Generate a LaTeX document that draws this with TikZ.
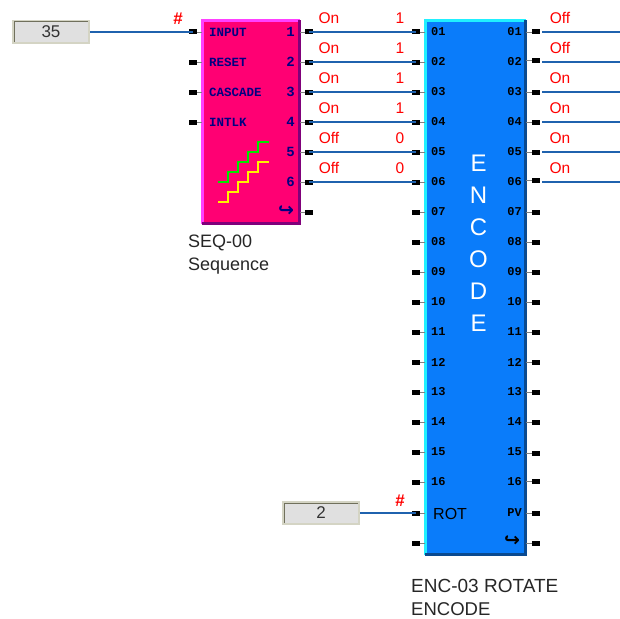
\documentclass[tikz,border=0pt]{standalone}
\usepackage{fontspec}
\usetikzlibrary{calc}
\setmainfont{Liberation Sans}
\setmonofont{Liberation Mono}
\newfontfamily\symfont{DejaVu Sans}
\definecolor{seqfill}{HTML}{FF0073}
\definecolor{seqlight}{HTML}{FF40FF}
\definecolor{seqdark}{HTML}{80007A}
\definecolor{encfill}{HTML}{0A7CFA}
\definecolor{enclight}{HTML}{20F0FF}
\definecolor{encdark}{HTML}{0A4A90}
\definecolor{wireblue}{HTML}{1F62AE}
\definecolor{pinnavy}{HTML}{000080}
\definecolor{bevellight}{HTML}{D4D4C4}
\definecolor{beveldark}{HTML}{70705C}
\tikzset{
	pinbox/.style={fill=black, inner sep=0pt, minimum width=8pt, minimum height=5pt},
	stub/.style={draw=gray, line width=0.9pt},
	wire/.style={draw=wireblue, line width=1.4pt, preaction={draw=wireblue!35, line width=2.6pt}},
	valbox/.style={fill=black!12, draw=bevellight, line width=2pt, inner sep=0pt, minimum width=76pt, minimum height=22pt, font=\fontsize{17}{17}\selectfont, text=black!80},
	redtxt/.style={text=red, inner sep=0pt, font=\fontsize{15.5}{16}\selectfont},
	seqtxt/.style={text=pinnavy, inner sep=0pt, font=\ttfamily\bfseries\fontsize{12.5}{13}\selectfont},
	enctxt/.style={text=black, inner sep=0pt, font=\ttfamily\bfseries\fontsize{12}{12}\selectfont},
	title/.style={text=black!85, inner sep=0pt, anchor=west, font=\fontsize{18}{18}\selectfont},
}
\begin{document}
\begin{tikzpicture}[x=1pt, y=-1pt]
	\useasboundingbox (0,0) rectangle (620,618);
	% blocks
	\node[fill=seqfill, inner sep=0pt, minimum width=97pt, minimum height=203pt] (seq) at (251,122) {};
	\node[fill=encfill, inner sep=0pt, minimum width=100pt, minimum height=534pt] (enc) at (475.5,287.5) {};
	\draw[seqlight, line width=3pt] (seq.south west) -- (seq.north west) -- (seq.north east);
	\draw[seqdark, line width=3pt] (seq.north east) -- (seq.south east) -- (seq.south west);
	\draw[enclight, line width=3pt] (enc.south west) -- (enc.north west) -- (enc.north east);
	\draw[encdark, line width=3pt] (enc.north east) -- (enc.south east) -- (enc.south west);
	% sequence pins
	\foreach \t [count=\i] in {INPUT,RESET,CASCADE,INTLK} {
		\pgfmathtruncatemacro{\y}{2+30*\i}
		\node[pinbox] (sl\i) at (193,\y) {};
		\draw[stub] (sl\i) -- (seq.west |- sl\i);
		\node[seqtxt, anchor=west] (slt\i) at (209,\y) {\t};
	}
	\foreach \i in {1,...,7} {
		\pgfmathtruncatemacro{\y}{2+30*\i}
		\node[pinbox] (sr\i) at (309,\y) {};
		\draw[stub] (sr\i) -- (seq.east |- sr\i);
	}
	\foreach \i in {1,...,6} {
		\node[seqtxt, anchor=east, font=\ttfamily\bfseries\fontsize{14}{14}\selectfont] (srt\i) at (295,2+30*\i) {\i};
	}
	\node[text=pinnavy, inner sep=0pt, font=\symfont\bfseries\fontsize{19}{19}\selectfont] (shook) at (286,211) {↪};
	% stairs
	\draw[green!90!black, line width=1.5pt] (218,182) -- (228,182) -- (228,172) -- (238,172) -- (238,162) -- (248,162) -- (248,152) -- (258,152) -- (258,142) -- (269,142);
	\draw[yellow, line width=1.5pt] (218,202) -- (228,202) -- (228,192) -- (238,192) -- (238,182) -- (248,182) -- (248,172) -- (258,172) -- (258,162) -- (269,162);
	% encode pins
	\foreach \t [count=\i] in {01,02,03,04,05,06,07,08,09,10,11,12,13,14,15,16} {
		\pgfmathtruncatemacro{\y}{2+30*\i}
		\node[pinbox] (el\i) at (416,\y) {};
		\draw[stub] (el\i) -- (enc.west |- el\i);
		\node[enctxt, anchor=west] (elt\i) at (431,\y) {\t};
		\node[enctxt, anchor=east] (ert\i) at (522,\y) {\t};
	}
	\foreach \i/\y in {1/32,2/60,3/92,4/122,5/152,6/180,7/212,8/242,9/272,10/302,11/332,12/362,13/392,14/422,15/453,16/481,17/513,18/543} {
		\node[pinbox] (er\i) at (536,\y) {};
		\draw[stub] (er\i) -- (enc.east |- er\i);
	}
	\node[pinbox] (elrot) at (416,513) {};
	\node[pinbox] (elx) at (416,543) {};
	\draw[stub] (elrot) -- (enc.west |- elrot);
	\draw[stub] (elx) -- (enc.west |- elx);
	\node[text=black, inner sep=0pt, anchor=west, font=\fontsize{16}{16}\selectfont] (rot) at (433,514) {ROT};
	\node[enctxt, anchor=east] (pv) at (522,513) {PV};
	\node[text=black, inner sep=0pt, font=\symfont\bfseries\fontsize{19}{19}\selectfont] (ehook) at (512,541) {↪};
	\node[text=white, inner sep=0pt, align=center, font=\fontsize{24}{32}\selectfont] (word) at (478.5,243) {E\\N\\C\\O\\D\\E};
	% values
	\node[valbox] (v35) at (51,32) {35};
	\node[valbox] (v2) at (321,513) {2};
	\draw[beveldark, line width=1pt] ($(v35.south west)+(2,-2)$) |- ($(v35.north east)+(-2,2)$);
	\draw[beveldark, line width=1pt] ($(v2.south west)+(2,-2)$) |- ($(v2.north east)+(-2,2)$);
	\draw[wire] (v35.east) -- (sl1.center);
	\draw[wire] (v2.east) -- (elrot.center);
	\foreach \i in {1,...,6} {
		\draw[wire] (sr\i.center) -- (el\i.center);
		\coordinate (os\i) at (542,2+30*\i);
		\coordinate (oe\i) at (620,2+30*\i);
		\draw[wire] (os\i) -- (oe\i);
	}
	% red labels
	\node[redtxt, font=\bfseries\fontsize{17}{17}\selectfont] (h1) at (178,19) {\#};
	\node[redtxt, font=\bfseries\fontsize{17}{17}\selectfont] (h2) at (400,501) {\#};
	\foreach \t/\n/\u [count=\i] in {On/1/Off,On/1/Off,On/1/On,On/1/On,Off/0/On,Off/0/On} {
		\pgfmathtruncatemacro{\y}{30*\i-12}
		\node[redtxt] (ls\i) at (329,\y) {\t};
		\node[redtxt] (ln\i) at (400,\y) {\n};
		\node[redtxt] (lo\i) at (560,\y) {\u};
	}
	% captions
	\node[title] (seqa) at (188,243) {SEQ-00};
	\node[title] (seqb) at (188,266) {Sequence};
	\node[title, font=\fontsize{19}{19}\selectfont] (enca) at (411,586) {ENC-03 ROTATE};
	\node[title, font=\fontsize{18.5}{19}\selectfont] (encb) at (411,609) {ENCODE};
\end{tikzpicture}
\end{document}
